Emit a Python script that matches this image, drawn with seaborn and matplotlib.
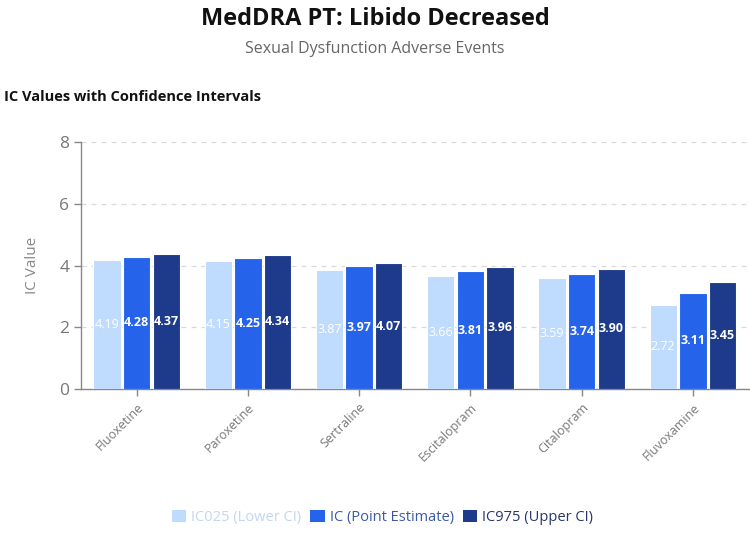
import matplotlib
matplotlib.use("Agg")
import matplotlib.pyplot as plt
import seaborn as sns
import pandas as pd
from matplotlib.patches import Patch

drugs = ["Fluoxetine", "Paroxetine", "Sertraline", "Escitalopram", "Citalopram", "Fluvoxamine"]
ic025 = [4.19, 4.15, 3.87, 3.66, 3.59, 2.72]
ic = [4.28, 4.25, 3.97, 3.81, 3.74, 3.11]
ic975 = [4.37, 4.34, 4.07, 3.96, 3.90, 3.45]
series = ["IC025 (Lower CI)", "IC (Point Estimate)", "IC975 (Upper CI)"]
colors = ["#bfdbfe", "#2563eb", "#1e3a8a"]
legend_text_colors = ["#c3d6f2", "#3a5aa6", "#2a3669"]

rows = []
for i, d in enumerate(drugs):
    for s, vals in zip(series, [ic025, ic, ic975]):
        rows.append({"drug": d, "series": s, "value": vals[i]})
df = pd.DataFrame(rows)

sns.set_theme(style="white")
font = ["Open Sans", "DejaVu Sans"]
plt.rcParams["font.family"] = font

fig = plt.figure(figsize=(7.5, 5.36), dpi=100)
ax = fig.add_axes([0.108, 0.2743, 0.89, 0.4607])

sns.barplot(data=df, x="drug", y="value", hue="series", palette=colors,
            order=drugs, hue_order=series, width=0.8, gap=0.08, saturation=1,
            edgecolor="white", linewidth=0.8, legend=False, ax=ax, zorder=3)

ax.set_ylim(0, 8)
ax.set_yticks([0, 2, 4, 6, 8])
ax.set_xlim(-0.5, len(drugs) - 0.5)
ax.grid(axis="y", linestyle=(0, (4, 4)), color="#d9d9d9", linewidth=0.9, zorder=0)
ax.set_axisbelow(True)
for side in ["top", "right"]:
    ax.spines[side].set_visible(False)
for side in ["left", "bottom"]:
    ax.spines[side].set_color("#888888")
    ax.spines[side].set_linewidth(1.0)
ax.tick_params(axis="both", colors="#888888", length=5, width=1, direction="out",
               left=True, bottom=True)
ax.tick_params(axis="y", labelsize=12.5, labelcolor="#777777")
ax.tick_params(axis="x", labelsize=9, labelcolor="#777777")
for lbl in ax.get_xticklabels():
    lbl.set_rotation(45)
    lbl.set_ha("right")
    lbl.set_rotation_mode("anchor")
ax.set_xlabel("")
ax.set_ylabel("IC Value", fontsize=11, color="#888888", labelpad=14)

for container, col in zip(ax.containers, colors):
    for bar in container:
        h = bar.get_height()
        ax.text(bar.get_x() + bar.get_width() / 2, h / 2, f"{h:.2f}",
                ha="center", va="center", color="white", fontsize=9,
                fontweight="bold" if col != colors[0] else "normal", zorder=5)

fig.text(0.5, 0.965, "MedDRA PT: Libido Decreased", ha="center", va="center",
         fontsize=17, fontweight="bold", color="#111111")
fig.text(0.5, 0.909, "Sexual Dysfunction Adverse Events", ha="center", va="center",
         fontsize=11.5, color="#666666")
fig.text(0.006, 0.819, "IC Values with Confidence Intervals", ha="left", va="center",
         fontsize=10.5, fontweight="bold", color="#111111")

handles = [Patch(facecolor=c, edgecolor="none") for c in colors]
leg = fig.legend(handles, series, loc="center", bbox_to_anchor=(0.51, 0.035),
                 ncol=3, frameon=False, fontsize=10.5, handlelength=1.0, handleheight=0.9,
                 handletextpad=0.35, columnspacing=0.6)
for t, c in zip(leg.get_texts(), legend_text_colors):
    t.set_color(c)

fig.savefig("out.png", dpi=100)
